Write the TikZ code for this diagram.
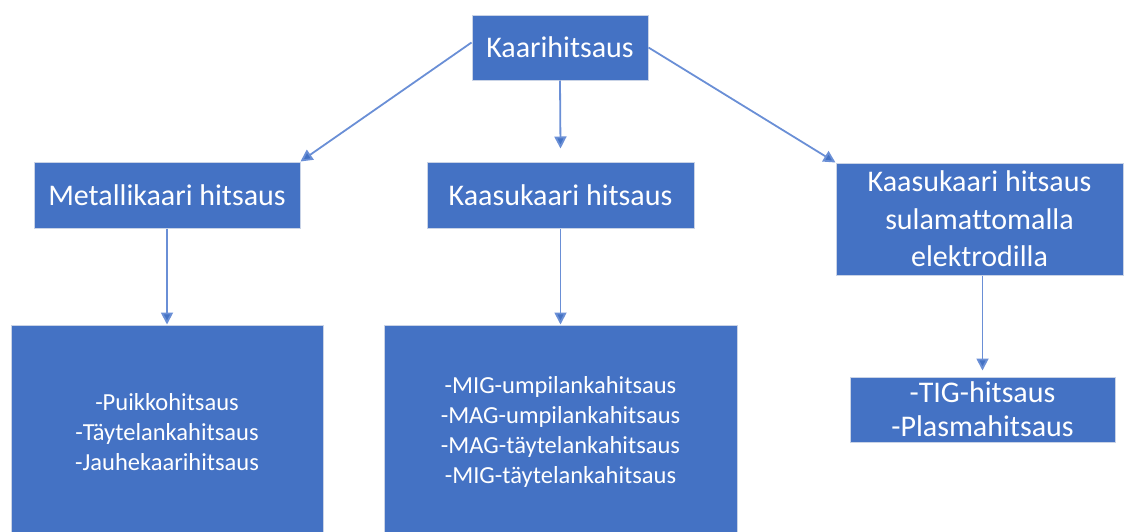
\documentclass[tikz,border=0pt]{standalone}
\usepackage{fontspec}
\setmainfont{Carlito}[Ligatures={NoCommon}]
\usetikzlibrary{arrows.meta,calc}
\definecolor{boxblue}{HTML}{4472C4}
\definecolor{linkblue}{HTML}{6A8FD6}
\definecolor{edgegray}{HTML}{C9D3E6}
\tikzset{
  box/.style={draw=edgegray, line width=1pt, fill=boxblue, text=white, align=center,
    inner sep=0pt, anchor=center},
  bigtxt/.style={font=\fontsize{30}{37.5}\selectfont},
  smalltxt/.style={font=\fontsize{24.5}{30}\selectfont},
  arr/.style={draw=linkblue, line width=1.8pt, -{Triangle[length=12pt,width=12pt,fill=boxblue]}}
}
\begin{document}
\begin{tikzpicture}[x=1pt,y=-1pt]
\useasboundingbox (0,0) rectangle (1125,531);
\node[box,bigtxt,minimum width=176pt,minimum height=65pt] (top) at (560,47.5) {Kaarihitsaus};
\node[box,bigtxt,minimum width=266pt,minimum height=66pt] (met) at (167,195) {Metallikaari hitsaus};
\node[box,bigtxt,minimum width=267pt,minimum height=66pt] (kaas) at (560.5,195) {Kaasukaari hitsaus};
\node[box,bigtxt,minimum width=287pt,minimum height=112pt] (right) at (979.5,219) {Kaasukaari hitsaus\\sulamattomalla\\elektrodilla};
\node[box,smalltxt,minimum width=312pt,minimum height=214pt] (bl) at (167,432) {-Puikkohitsaus\\-Täytelankahitsaus\\-Jauhekaarihitsaus};
\node[box,smalltxt,minimum width=353pt,minimum height=214pt] (bm) at (560.5,432) {-MIG-umpilankahitsaus\\-MAG-umpilankahitsaus\\-MAG-täytelankahitsaus\\-MIG-täytelankahitsaus};
\node[box,font=\fontsize{30}{34}\selectfont,minimum width=265pt,minimum height=65pt] (tig) at (982.5,409.5) {-TIG-hitsaus\\-Plasmahitsaus};
\coordinate (kaasin) at ($(kaas.north)+(0,-13)$);
\coordinate (tigin) at ($(tig.north)+(0,-6)$);
\draw[arr] ([yshift=5pt]top.west) -- (met.north east);
\draw[arr] (top.south) -- (kaasin);
\draw[arr] (top.east) -- (right.north west);
\draw[arr] (met.south) -- (bl.north);
\draw[arr] (kaas.south) -- (bm.north);
\draw[arr] (right.south -| tig.north) -- (tigin);
\end{tikzpicture}
\end{document}
